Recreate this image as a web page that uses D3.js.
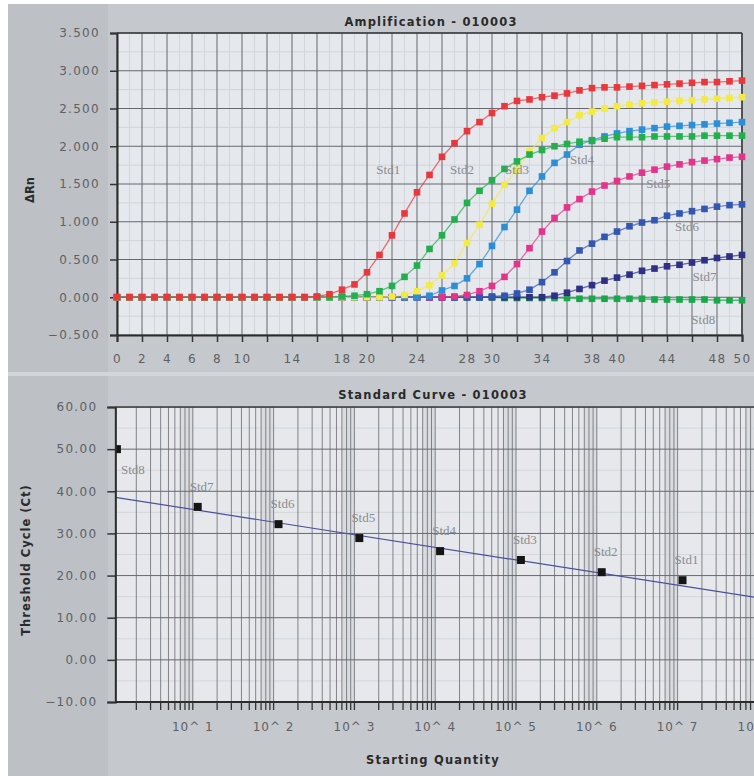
<!DOCTYPE html>
<html>
<head>
<meta charset="utf-8">
<script src="https://cdn.jsdelivr.net/npm/d3@7"></script>
<style>
  body { margin: 0; background: #fff; }
  svg { display: block; }
  text { font-family: "DejaVu Sans", sans-serif; }
</style>
</head>
<body>
<script>
// amplification plot data (delta Rn per cycle)
const cycles = d3.range(0, 51);
const std1 = [0,0,0,0,0,0,0,0,0,0, 0,0,0,0,0,0,0.01,0.04,0.10,0.17, 0.33,0.56,0.82,1.11,1.39,1.62,1.86,2.04,2.20,2.32, 2.44,2.53,2.60,2.62,2.65,2.67,2.70,2.74,2.77,2.78, 2.78,2.79,2.80,2.81,2.82,2.83,2.84,2.85,2.85,2.86, 2.87];
const std2 = [0,0,0,0,0,0,0,0,0,0, 0,0,0,0,0,0,0,0,0.01,0.02, 0.04,0.08,0.15,0.27,0.42,0.64,0.82,1.03,1.25,1.41, 1.55,1.70,1.80,1.89,1.95,2.00,2.03,2.06,2.07,2.10, 2.12,2.12,2.12,2.13,2.13,2.13,2.13,2.14,2.14,2.14, 2.14];
const std3 = [0,0,0,0,0,0,0,0,0,0, 0,0,0,0,0,0,0,0,0,0, 0,0,0.01,0.03,0.08,0.16,0.29,0.45,0.72,0.96, 1.24,1.49,1.69,1.93,2.11,2.24,2.32,2.41,2.46,2.50, 2.53,2.55,2.57,2.58,2.59,2.60,2.61,2.62,2.63,2.64, 2.65];
const std4 = [0,0,0,0,0,0,0,0,0,0, 0,0,0,0,0,0,0,0,0,0, 0,0,0,0,0,0.02,0.09,0.15,0.25,0.44, 0.68,0.93,1.16,1.41,1.60,1.78,1.89,2.02,2.08,2.13, 2.17,2.20,2.22,2.24,2.26,2.27,2.28,2.29,2.30,2.31, 2.32];
const std5 = [0,0,0,0,0,0,0,0,0,0, 0,0,0,0,0,0,0,0,0,0, 0,0,0,0,0,0,0,0.01,0.03,0.08, 0.15,0.27,0.44,0.65,0.87,1.05,1.19,1.30,1.40,1.48, 1.54,1.60,1.65,1.69,1.73,1.76,1.79,1.81,1.83,1.85, 1.86];
const std6 = [0,0,0,0,0,0,0,0,0,0, 0,0,0,0,0,0,0,0,0,0, 0,0,0,0,0,0,0,0,0,0, 0.01,0.02,0.05,0.10,0.20,0.33,0.48,0.62,0.71,0.80, 0.87,0.94,0.99,1.02,1.08,1.11,1.14,1.17,1.20,1.22, 1.23];
const std7 = [0,0,0,0,0,0,0,0,0,0, 0,0,0,0,0,0,0,0,0,0, 0,0,0,0,0,0,0,0,0,0, 0,0,0,0,0,0.02,0.06,0.11,0.16,0.22, 0.26,0.30,0.35,0.38,0.41,0.43,0.46,0.49,0.52,0.54, 0.56];
const std8 = [0,0,0,0,0,0,0,0,0,0, 0,0,0,0,0,0,0,0,0,0, 0,0,0,0,0,0,0,0,0,0, 0,-0.01,-0.01,-0.01,-0.01,-0.01,-0.01,-0.02,-0.02,-0.02, -0.02,-0.02,-0.02,-0.03,-0.03,-0.03,-0.03,-0.03,-0.04,-0.04, -0.04];

const ampNames = ["Std1", "Std2", "Std3", "Std4", "Std5", "Std6", "Std7", "Std8"];
const ampColors = ["#e8383d", "#22b04e", "#f4ea45", "#2a8fd6", "#e3338a", "#3357b0", "#2e2f85", "#1aa64a"];
// where the Std labels sit, in cycle / delta Rn units
const ampLabelCycle = [21.7, 27.6, 32.0, 37.2, 43.3, 45.6, 47.0, 46.9];
const ampLabelValue = [1.67, 1.67, 1.67, 1.80, 1.49, 0.92, 0.25, -0.32];

const ampYTicks = [-0.5, 0, 0.5, 1, 1.5, 2, 2.5, 3, 3.5];
const ampXTicks = d3.range(0, 51, 2);
const ampXLabels = [0, 2, 4, 6, 8, 10, 14, 18, 20, 24, 28, 30, 34, 38, 40, 44, 48, 50];

// standard curve data
const stdNames = ["Std8", "Std7", "Std6", "Std5", "Std4", "Std3", "Std2", "Std1"];
const stdQuantity = [1.15, 11.5, 115, 1150, 11500, 115000, 1150000, 11500000];
const stdCt = [50.0, 36.3, 32.2, 28.9, 25.8, 23.7, 20.8, 18.9];
const fitSlope = -3.0;
const fitIntercept = 38.7;
const stdYTicks = [-10, 0, 10, 20, 30, 40, 50, 60];
const stdXDecades = [1, 2, 3, 4, 5, 6, 7, 8];

const W = 754, H = 776;
const svg = d3.select("body").append("svg").attr("width", W).attr("height", H);

// grey window panels
svg.append("rect").attr("x", 8).attr("y", 4).attr("width", W - 8).attr("height", H - 4).attr("fill", "#c5c9cd");
svg.append("rect").attr("x", 8).attr("y", 4).attr("width", 100).attr("height", 368).attr("fill", "#bdc1c6");
svg.append("rect").attr("x", 8).attr("y", 376).attr("width", 100).attr("height", 400).attr("fill", "#bdc1c6");
svg.append("rect").attr("x", 8).attr("y", 372).attr("width", W - 8).attr("height", 4).attr("fill", "#d3d6d9");

const tickFont = g => g.selectAll("text")
  .attr("fill", "#5e6064")
  .style("font-size", "12px")
  .style("letter-spacing", "1.3px");

// ---------- Amplification ----------
const ax = d3.scaleLinear().domain([0, 50]).range([117, 742]);
const ay = d3.scaleLinear().domain([-0.5, 3.5]).range([335, 33]);

const amp = svg.append("g");
amp.append("rect")
  .attr("x", ax(0)).attr("y", ay(3.5))
  .attr("width", ax(50) - ax(0)).attr("height", ay(-0.5) - ay(3.5))
  .attr("fill", "#e5e8ec");

// faint minor grid
amp.append("g").selectAll("line")
  .data(d3.range(1, 50, 2))
  .join("line")
  .attr("x1", d => ax(d)).attr("x2", d => ax(d))
  .attr("y1", ay(3.5)).attr("y2", ay(-0.5))
  .attr("stroke", "#d2d5da");
amp.append("g").selectAll("line")
  .data(d3.range(-0.25, 3.5, 0.5))
  .join("line")
  .attr("x1", ax(0)).attr("x2", ax(50))
  .attr("y1", d => ay(d)).attr("y2", d => ay(d))
  .attr("stroke", "#d2d5da");

// main grid
amp.append("g").selectAll("line")
  .data(ampXTicks)
  .join("line")
  .attr("x1", d => ax(d)).attr("x2", d => ax(d))
  .attr("y1", ay(3.5)).attr("y2", ay(-0.5))
  .attr("stroke", "#65686d").attr("stroke-width", 1);
amp.append("g").selectAll("line")
  .data(ampYTicks)
  .join("line")
  .attr("x1", ax(0)).attr("x2", ax(50))
  .attr("y1", d => ay(d)).attr("y2", d => ay(d))
  .attr("stroke", "#65686d").attr("stroke-width", 1);

// axes
amp.append("g")
  .attr("transform", `translate(${ax(0)},0)`)
  .call(d3.axisLeft(ay).tickValues(ampYTicks).tickFormat(d3.format(".3f")).tickSize(7).tickPadding(10))
  .call(g => g.select(".domain").attr("stroke", "#2b2b2b").attr("stroke-width", 2))
  .call(g => g.selectAll(".tick line").attr("stroke", "#333").attr("stroke-width", 1.5))
  .call(tickFont);

amp.append("g")
  .attr("transform", `translate(0,${ay(-0.5)})`)
  .call(d3.axisBottom(ax).tickValues(ampXTicks).tickFormat(d => ampXLabels.includes(d) ? d : "").tickSize(7).tickPadding(12))
  .call(g => g.select(".domain").attr("stroke", "#2b2b2b").attr("stroke-width", 2))
  .call(g => g.selectAll(".tick line").attr("stroke", "#333").attr("stroke-width", 1.5))
  .call(tickFont);

amp.append("line")
  .attr("x1", ax(50)).attr("x2", ax(50)).attr("y1", ay(3.5)).attr("y2", ay(-0.5))
  .attr("stroke", "#3a3a3a").attr("stroke-width", 1.5);
amp.append("line")
  .attr("x1", ax(0)).attr("x2", ax(50)).attr("y1", ay(3.5)).attr("y2", ay(3.5))
  .attr("stroke", "#3a3a3a").attr("stroke-width", 1.5);

// curves, drawn from Std8 up to Std1 so Std1 ends on top
const ampSeries = [std1, std2, std3, std4, std5, std6, std7, std8];
const line = d3.line().x((d, i) => ax(cycles[i])).y(d => ay(d));

ampSeries.slice().reverse().forEach((vals, r) => {
  const k = ampSeries.length - 1 - r;
  amp.append("path")
    .datum(vals)
    .attr("fill", "none")
    .attr("stroke", ampColors[k])
    .attr("stroke-opacity", 0.7)
    .attr("stroke-width", 1.3)
    .attr("d", line);
  amp.append("g").selectAll("rect")
    .data(vals)
    .join("rect")
    .attr("x", (d, i) => ax(cycles[i]) - 3.3)
    .attr("y", d => ay(d) - 3.3)
    .attr("width", 6.6).attr("height", 6.6)
    .attr("fill", ampColors[k]);
});

amp.append("g").selectAll("text")
  .data(ampNames)
  .join("text")
  .attr("x", (d, i) => ax(ampLabelCycle[i]))
  .attr("y", (d, i) => ay(ampLabelValue[i]))
  .attr("text-anchor", "middle")
  .attr("dominant-baseline", "middle")
  .attr("fill", "#8a8c90")
  .style("font-family", "'Liberation Serif', serif")
  .style("font-size", "13px")
  .text(d => d);

svg.append("text")
  .attr("x", 431).attr("y", 26)
  .attr("text-anchor", "middle")
  .attr("fill", "#2a2a2a")
  .style("font-size", "11.5px").style("font-weight", "bold").style("letter-spacing", "1.2px")
  .text("Amplification - 010003");

svg.append("text")
  .attr("transform", "translate(34,190) rotate(-90)")
  .attr("text-anchor", "middle")
  .attr("fill", "#2a2a2a")
  .style("font-size", "11.5px").style("font-weight", "bold")
  .text("ΔRn");

// ---------- Standard Curve ----------
const x0 = 112, decade = 80.8;
const sLo = 1.1, sHi = 3e8;
const sx = d3.scaleLog().domain([sLo, sHi]).range([x0 + decade * Math.log10(sLo), x0 + decade * Math.log10(sHi)]);
const sy = d3.scaleLinear().domain([-10, 60]).range([702, 407]);

svg.append("clipPath").attr("id", "stdclip")
  .append("rect").attr("x", sx(sLo)).attr("y", sy(60)).attr("width", W - sx(sLo)).attr("height", sy(-10) - sy(60));

const std = svg.append("g");
const plot = std.append("g").attr("clip-path", "url(#stdclip)");

plot.append("rect")
  .attr("x", sx(sLo)).attr("y", sy(60))
  .attr("width", W - sx(sLo)).attr("height", sy(-10) - sy(60))
  .attr("fill", "#e6e8ec");

// darker bands where the log grid crowds up at the end of each decade
const decadeStarts = [1, 10, 100, 1e3, 1e4, 1e5, 1e6, 1e7, 1e8];
plot.append("g").selectAll("rect")
  .data(decadeStarts)
  .join("rect")
  .attr("x", d => sx(d * 7))
  .attr("y", sy(60))
  .attr("width", d => sx(d * 10) - sx(d * 7))
  .attr("height", sy(-10) - sy(60))
  .attr("fill", "#c9ccd1").attr("opacity", 0.45);

plot.append("g").selectAll("line")
  .data(d3.range(-5, 60, 10))
  .join("line")
  .attr("x1", sx(sLo)).attr("x2", W)
  .attr("y1", d => sy(d)).attr("y2", d => sy(d))
  .attr("stroke", "#d3d6da");

const minorVals = [];
decadeStarts.forEach(d => [1, 2, 3, 4, 5, 6, 7, 8, 9].forEach(m => {
  const v = d * m;
  if (v > sLo && v < sHi) minorVals.push(v);
}));

plot.append("g").selectAll("line")
  .data(minorVals)
  .join("line")
  .attr("x1", d => sx(d)).attr("x2", d => sx(d))
  .attr("y1", sy(60)).attr("y2", sy(-10))
  .attr("stroke", "#686b70").attr("stroke-width", 0.8);

plot.append("g").selectAll("line")
  .data(stdYTicks)
  .join("line")
  .attr("x1", sx(sLo)).attr("x2", W)
  .attr("y1", d => sy(d)).attr("y2", d => sy(d))
  .attr("stroke", "#65686d").attr("stroke-width", 1);

// fit line
const fitPts = [sLo, sHi].map(q => [q, fitIntercept + fitSlope * Math.log10(q)]);
plot.append("path")
  .datum(fitPts)
  .attr("fill", "none")
  .attr("stroke", "#4b4f9c")
  .attr("stroke-width", 1.2)
  .attr("d", d3.line().x(d => sx(d[0])).y(d => sy(d[1])));

plot.append("g").selectAll("rect")
  .data(stdCt)
  .join("rect")
  .attr("x", (d, i) => sx(stdQuantity[i]) - 4)
  .attr("y", d => sy(d) - 4)
  .attr("width", 8).attr("height", 8)
  .attr("fill", "#141414");

plot.append("g").selectAll("text")
  .data(stdNames)
  .join("text")
  .attr("x", (d, i) => sx(stdQuantity[i]) + (i === 0 ? 16 : 4))
  .attr("y", (d, i) => sy(stdCt[i]) + (i === 0 ? 22 : -19))
  .attr("text-anchor", "middle")
  .attr("dominant-baseline", "middle")
  .attr("fill", "#8a8c90")
  .style("font-family", "'Liberation Serif', serif")
  .style("font-size", "13px")
  .text(d => d);

// axes
std.append("g")
  .attr("transform", `translate(${sx(sLo)},0)`)
  .call(d3.axisLeft(sy).tickValues(stdYTicks).tickFormat(d3.format(".2f")).tickSize(8).tickPadding(10))
  .call(g => g.select(".domain").attr("stroke", "#2b2b2b").attr("stroke-width", 2))
  .call(g => g.selectAll(".tick line").attr("stroke", "#333").attr("stroke-width", 1.5))
  .call(tickFont);

std.append("line")
  .attr("x1", sx(sLo)).attr("x2", W).attr("y1", sy(-10)).attr("y2", sy(-10))
  .attr("stroke", "#2b2b2b").attr("stroke-width", 2);
std.append("line")
  .attr("x1", sx(sLo)).attr("x2", W).attr("y1", sy(60)).attr("y2", sy(60))
  .attr("stroke", "#3a3a3a").attr("stroke-width", 1.5);

std.append("g").selectAll("line")
  .data(minorVals)
  .join("line")
  .attr("x1", d => sx(d)).attr("x2", d => sx(d))
  .attr("y1", sy(-10)).attr("y2", sy(-10) + 8)
  .attr("stroke", "#333").attr("stroke-width", 1.3);

// the last decade label runs off the right edge, as in the original
std.append("g").selectAll("text")
  .data(stdXDecades)
  .join("text")
  .attr("x", d => sx(Math.pow(10, d)))
  .attr("y", 731)
  .attr("text-anchor", "middle")
  .attr("fill", "#5e6064")
  .style("font-size", "12px")
  .style("letter-spacing", "1px")
  .text(d => "10^ " + d);

svg.append("text")
  .attr("x", 433).attr("y", 399)
  .attr("text-anchor", "middle")
  .attr("fill", "#2a2a2a")
  .style("font-size", "11.5px").style("font-weight", "bold").style("letter-spacing", "1.2px")
  .text("Standard Curve - 010003");

svg.append("text")
  .attr("transform", "translate(30,560) rotate(-90)")
  .attr("text-anchor", "middle")
  .attr("fill", "#2a2a2a")
  .style("font-size", "11.5px").style("font-weight", "bold").style("letter-spacing", "1px")
  .text("Threshold Cycle (Ct)");

svg.append("text")
  .attr("x", 433).attr("y", 764)
  .attr("text-anchor", "middle")
  .attr("fill", "#2a2a2a")
  .style("font-size", "11.5px").style("font-weight", "bold").style("letter-spacing", "1.2px")
  .text("Starting Quantity");
</script>
</body>
</html>
